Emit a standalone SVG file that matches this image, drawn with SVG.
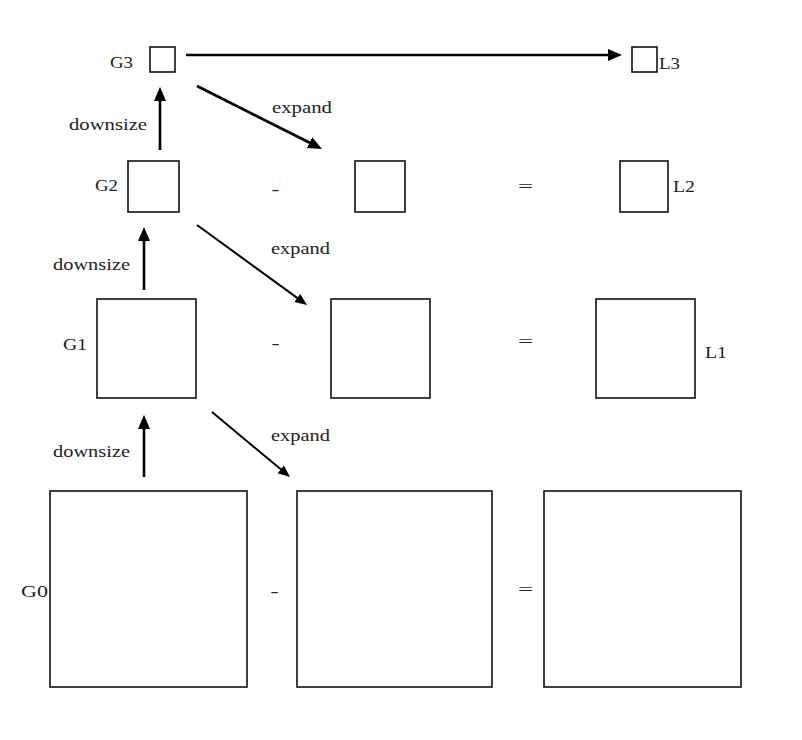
<svg xmlns="http://www.w3.org/2000/svg" width="802" height="740" viewBox="0 0 802 740">
<style>
.box{fill:#fff;stroke:#111;stroke-width:1.6}
.lbl{font-family:"Liberation Serif","Times New Roman",serif;font-size:17px;fill:#222}
.op{font-family:"Liberation Serif","Times New Roman",serif;font-size:17px;fill:#222;text-anchor:middle}
.arr{stroke:#000;stroke-width:2.6;fill:none;marker-end:url(#ah)}
.arr2{stroke:#000;stroke-width:2;fill:none;marker-end:url(#ah2)}
</style>
<defs>
<marker id="ah" markerUnits="userSpaceOnUse" markerWidth="16" markerHeight="14" refX="3" refY="6" orient="auto">
<path d="M0,0 L14,6 L0,12 z" fill="#000"/>
</marker>
<marker id="ah2" markerUnits="userSpaceOnUse" markerWidth="14" markerHeight="12" refX="2" refY="5" orient="auto">
<path d="M0,0 L12,5 L0,10 z" fill="#000"/>
</marker>
</defs>
<rect x="0" y="0" width="802" height="740" fill="#fff"/>

<g id="G3">
<rect class="box" x="150" y="47" width="25" height="25"/>
<text class="lbl" x="110" y="68" textLength="23" lengthAdjust="spacingAndGlyphs">G3</text>
</g>
<g id="L3">
<rect class="box" x="632" y="47" width="25" height="25"/>
<text class="lbl" x="659" y="69" textLength="21" lengthAdjust="spacingAndGlyphs">L3</text>
</g>

<g id="G2">
<rect class="box" x="128" y="161" width="51" height="51"/>
<text class="lbl" x="95" y="191" textLength="23" lengthAdjust="spacingAndGlyphs">G2</text>
</g>
<g id="E2">
<rect class="box" x="355" y="161" width="50" height="51"/>
</g>
<g id="L2">
<rect class="box" x="620" y="161" width="48" height="51"/>
<text class="lbl" x="673" y="192" textLength="22" lengthAdjust="spacingAndGlyphs">L2</text>
</g>

<g id="G1">
<rect class="box" x="97" y="299" width="99" height="99"/>
<text class="lbl" x="63" y="350" textLength="24" lengthAdjust="spacingAndGlyphs">G1</text>
</g>
<g id="E1">
<rect class="box" x="331" y="299" width="99" height="99"/>
</g>
<g id="L1">
<rect class="box" x="596" y="299" width="99" height="99"/>
<text class="lbl" x="705" y="358" textLength="22" lengthAdjust="spacingAndGlyphs">L1</text>
</g>

<g id="G0">
<rect class="box" x="50" y="491" width="197" height="196"/>
<text class="lbl" x="21" y="597" textLength="27" lengthAdjust="spacingAndGlyphs">G0</text>
</g>
<g id="E0">
<rect class="box" x="297" y="491" width="195" height="196"/>
</g>
<g id="L0">
<rect class="box" x="544" y="491" width="197" height="196"/>
</g>

<g id="operators">
<text class="op" x="275.5" y="195" textLength="8" lengthAdjust="spacingAndGlyphs">-</text>
<text class="op" x="525.5" y="192" textLength="15" lengthAdjust="spacingAndGlyphs">=</text>
<text class="op" x="275.5" y="349" textLength="8" lengthAdjust="spacingAndGlyphs">-</text>
<text class="op" x="525.5" y="347" textLength="15" lengthAdjust="spacingAndGlyphs">=</text>
<text class="op" x="274.5" y="597" textLength="8" lengthAdjust="spacingAndGlyphs">-</text>
<text class="op" x="525.5" y="595" textLength="15" lengthAdjust="spacingAndGlyphs">=</text>
</g>

<g id="connectors">
<line class="arr" x1="186" y1="55" x2="611" y2="55"/>
<line class="arr" x1="160" y1="150" x2="160" y2="98"/>
<line class="arr" x1="144" y1="290" x2="144" y2="238"/>
<line class="arr" x1="144" y1="477" x2="144" y2="426"/>
<line class="arr" x1="197" y1="86" x2="312.2" y2="144"/>
<line class="arr2" x1="197" y1="225" x2="298.9" y2="299.1"/>
<line class="arr2" x1="212" y1="412" x2="282.3" y2="470.6"/>
<text class="lbl" x="69" y="130" textLength="78" lengthAdjust="spacingAndGlyphs">downsize</text>
<text class="lbl" x="53" y="270" textLength="77" lengthAdjust="spacingAndGlyphs">downsize</text>
<text class="lbl" x="53" y="457" textLength="77" lengthAdjust="spacingAndGlyphs">downsize</text>
<text class="lbl" x="272" y="113" textLength="60" lengthAdjust="spacingAndGlyphs">expand</text>
<text class="lbl" x="271" y="254" textLength="59" lengthAdjust="spacingAndGlyphs">expand</text>
<text class="lbl" x="271" y="441" textLength="59" lengthAdjust="spacingAndGlyphs">expand</text>
</g>
</svg>
